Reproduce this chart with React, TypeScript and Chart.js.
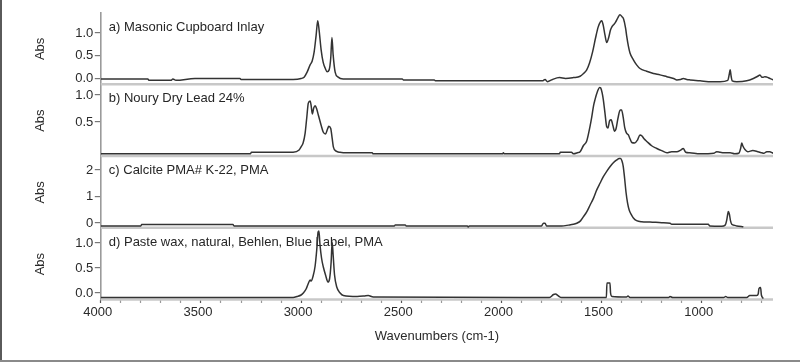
import React, { useEffect, useRef } from "react";
import { Chart, registerables } from "chart.js";

Chart.register(...registerables);

const FONT = '"Liberation Sans", Arial, Helvetica, sans-serif';

// ---- Panel titles ----
const panelLabels = [
  "a) Masonic Cupboard Inlay",
  "b) Noury Dry Lead 24%",
  "c) Calcite PMA# K-22, PMA",
  "d) Paste wax, natural, Behlen, Blue Label, PMA",
];

// ---- x axis ----
const xMin = 644;
const xMax = 4000;
const xStep = 100;
const xLabelEvery = 500;
const xTitle = "Wavenumbers (cm-1)";
const yTitle = "Abs";

// ---- y tick labels per panel ----
const ticksA = [0, 0.5, 1.0];
const ticksB = [0.5, 1.0];
const ticksC = [0, 1, 2];
const ticksD = [0, 0.5, 1.0];

// ---- y ranges per panel ----
const rangeA = [-0.137, 1.44];
const rangeB = [-0.139, 1.19];
const rangeC = [-0.198, 2.51];
const rangeD = [-0.14, 1.295];

// ---- a) Masonic Cupboard Inlay ----
const wnA = [4000, 3765, 3760, 3650, 3640, 3625, 3530, 3305, 3300, 3040, 3000, 2985, 2970, 2955, 2945, 2935, 2925, 2917, 2910, 2900, 2890, 2880, 2870, 2860, 2852, 2846, 2840, 2830, 2815, 2790, 2495, 2490, 2335, 2330, 1795, 1782, 1770, 1745, 1710, 1680, 1640, 1607, 1590, 1574, 1560, 1545, 1530, 1517, 1505, 1499, 1492, 1483, 1474, 1465, 1455, 1449, 1440, 1430, 1418, 1408, 1398, 1390, 1380, 1374, 1366, 1358, 1341, 1325, 1308, 1275, 1241, 1208, 1174, 1140, 1124, 1105, 1092, 1075, 1058, 1008, 950, 908, 870, 862, 858, 853, 848, 825, 775, 742, 720, 709, 700, 692, 684, 675, 659, 648, 642];
const absA = [-0.01, -0.01, -0.04, -0.04, -0.01, -0.04, 0.0, 0.0, -0.02, -0.02, 0.0, 0.03, 0.14, 0.30, 0.38, 0.58, 0.95, 1.27, 1.06, 0.63, 0.36, 0.23, 0.15, 0.19, 0.45, 0.90, 0.52, 0.14, 0.03, -0.01, -0.01, -0.03, -0.03, -0.05, -0.05, -0.02, -0.07, -0.02, 0.02, 0.0, 0.02, 0.05, 0.11, 0.19, 0.34, 0.58, 0.89, 1.13, 1.25, 1.27, 1.18, 0.96, 0.79, 0.89, 1.07, 1.13, 1.18, 1.24, 1.34, 1.40, 1.36, 1.31, 1.11, 0.92, 0.71, 0.56, 0.41, 0.30, 0.22, 0.16, 0.11, 0.08, 0.04, 0.0, -0.03, -0.02, 0.0, -0.02, -0.03, -0.05, -0.07, -0.07, -0.04, 0.10, 0.19, 0.05, -0.05, -0.07, -0.05, 0.0, 0.05, 0.08, 0.03, 0.03, 0.04, 0.03, 0.0, -0.02, -0.03];

// ---- b) Noury Dry Lead 24% ----
const wnB = [4000, 3253, 3248, 3040, 3010, 3000, 2990, 2980, 2972, 2964, 2955, 2950, 2944, 2937, 2930, 2922, 2914, 2900, 2889, 2878, 2868, 2862, 2852, 2845, 2839, 2825, 2806, 2772, 2645, 2640, 1995, 1990, 1985, 1710, 1706, 1650, 1641, 1620, 1607, 1591, 1574, 1557, 1549, 1540, 1533, 1520, 1510, 1504, 1497, 1491, 1483, 1474, 1468, 1460, 1452, 1443, 1435, 1428, 1418, 1407, 1400, 1392, 1384, 1376, 1366, 1358, 1349, 1335, 1320, 1308, 1298, 1288, 1274, 1250, 1224, 1200, 1174, 1150, 1124, 1105, 1092, 1080, 1060, 1008, 940, 925, 908, 890, 858, 835, 815, 805, 800, 795, 784, 770, 745, 720, 700, 690, 675, 660, 648, 642];
const absB = [-0.09, -0.09, -0.06, -0.06, -0.02, 0.04, 0.11, 0.29, 0.57, 0.85, 0.89, 0.81, 0.65, 0.76, 0.80, 0.74, 0.63, 0.44, 0.31, 0.28, 0.37, 0.42, 0.38, 0.20, 0.04, -0.04, -0.06, -0.07, -0.07, -0.09, -0.09, -0.07, -0.09, -0.09, -0.06, -0.06, -0.09, -0.07, -0.05, 0.06, 0.15, 0.43, 0.59, 0.80, 0.91, 1.07, 1.14, 1.13, 1.04, 0.91, 0.67, 0.41, 0.39, 0.52, 0.54, 0.43, 0.33, 0.37, 0.57, 0.72, 0.72, 0.59, 0.39, 0.30, 0.26, 0.19, 0.12, 0.11, 0.17, 0.26, 0.24, 0.19, 0.14, 0.06, 0.01, -0.03, -0.07, -0.05, -0.05, -0.02, 0.01, -0.06, -0.07, -0.09, -0.08, -0.05, -0.06, -0.07, -0.07, -0.09, -0.08, 0.02, 0.11, 0.06, -0.01, -0.05, -0.03, -0.05, -0.07, -0.08, -0.05, -0.05, -0.07, -0.08];

// ---- c) Calcite PMA# K-22, PMA ----
const wnC = [4000, 3800, 3796, 3340, 3335, 2535, 2530, 2480, 2475, 2170, 2166, 2160, 1800, 1790, 1782, 1775, 1700, 1665, 1640, 1624, 1605, 1591, 1574, 1557, 1540, 1524, 1507, 1491, 1475, 1458, 1440, 1424, 1412, 1405, 1398, 1392, 1385, 1378, 1370, 1362, 1350, 1341, 1325, 1300, 1258, 1200, 1158, 1150, 967, 960, 900, 883, 875, 870, 867, 862, 856, 850, 835, 825, 792];
const absC = [-0.11, -0.11, -0.06, -0.06, -0.11, -0.11, -0.08, -0.08, -0.11, -0.11, -0.15, -0.11, -0.11, -0.01, -0.01, -0.11, -0.11, -0.08, -0.05, -0.01, 0.08, 0.23, 0.42, 0.68, 0.94, 1.25, 1.51, 1.75, 1.94, 2.12, 2.28, 2.38, 2.43, 2.43, 2.34, 2.15, 1.70, 1.17, 0.75, 0.49, 0.30, 0.19, 0.09, 0.05, 0.04, 0.01, -0.01, -0.05, -0.05, -0.11, -0.12, -0.08, 0.11, 0.34, 0.43, 0.34, 0.08, -0.05, -0.09, -0.11, -0.14];

// ---- d) Paste wax, natural, Behlen, Blue Label, PMA ----
const wnD = [4000, 3040, 3020, 3000, 2989, 2975, 2964, 2955, 2950, 2940, 2930, 2922, 2915, 2911, 2906, 2898, 2889, 2878, 2866, 2858, 2850, 2845, 2840, 2833, 2822, 2805, 2789, 2720, 2685, 2665, 2640, 1760, 1740, 1730, 1715, 1700, 1476, 1473, 1458, 1455, 1448, 1375, 1368, 1358, 1165, 1158, 1145, 890, 880, 870, 775, 760, 725, 718, 714, 706, 702, 692];
const absD = [-0.09, -0.09, -0.07, -0.04, 0.0, 0.08, 0.19, 0.26, 0.24, 0.34, 0.54, 0.86, 1.22, 1.24, 0.98, 0.70, 0.52, 0.36, 0.22, 0.28, 0.62, 1.02, 0.76, 0.36, 0.12, 0.0, -0.05, -0.07, -0.06, -0.05, -0.08, -0.09, -0.03, -0.02, -0.06, -0.09, -0.09, 0.20, 0.20, 0.0, -0.07, -0.08, -0.06, -0.09, -0.09, -0.07, -0.09, -0.09, -0.07, -0.09, -0.09, -0.05, -0.05, -0.02, 0.09, 0.11, -0.04, -0.11];

const panelIds = ["yA", "yB", "yC", "yD"];

function toPoints(xs: number[], ys: number[]) {
  return xs.map((x, i) => ({ x, y: ys[i] }));
}

const decorPlugin = {
  id: "decor",
  beforeDatasetsDraw(chart: any) {
    const { ctx, chartArea } = chart;
    ctx.save();
    ctx.strokeStyle = "#c8c8c8";
    ctx.lineWidth = 2.5;
    panelIds.forEach((id) => {
      const s = chart.scales[id];
      ctx.beginPath();
      ctx.moveTo(chartArea.left, s.bottom - 0.5);
      ctx.lineTo(chartArea.right, s.bottom - 0.5);
      ctx.stroke();
    });
    ctx.fillStyle = "#262626";
    ctx.font = `13px ${FONT}`;
    ctx.textBaseline = "middle";
    ctx.textAlign = "left";
    panelIds.forEach((id, i) => {
      const s = chart.scales[id];
      ctx.fillText(panelLabels[i], chartArea.left + 8, s.top + 14);
    });
    ctx.restore();
  },
  afterDraw(chart: any) {
    const { ctx } = chart;
    ctx.save();
    ctx.fillStyle = "#5a5a5a";
    ctx.fillRect(0, 0, 2, chart.height);
    ctx.fillStyle = "#8a8a8a";
    ctx.fillRect(0, chart.height - 2, chart.width, 2);
    ctx.restore();
  },
};

function yAxis(range: number[], ticks: number[], weight: number, decimals: number) {
  return {
    type: "linear",
    position: "left",
    stack: "panels",
    stackWeight: 1,
    weight,
    min: range[0],
    max: range[1],
    afterBuildTicks: (scale: any) => {
      scale.ticks = ticks.map((v) => ({ value: v }));
    },
    afterFit: (scale: any) => {
      scale.width = 100.8;
    },
    ticks: {
      color: "#2a2a2a",
      font: { family: FONT, size: 13 },
      padding: 1.5,
      callback: (v: any) => Number(v).toFixed(decimals),
    },
    grid: {
      drawOnChartArea: false,
      drawTicks: true,
      tickLength: 6,
      color: "#777",
      lineWidth: 1.2,
    },
    border: { display: true, color: "#9a9a9a", width: 1.6, dash: [1.2, 2.2] },
    title: {
      display: true,
      text: yTitle,
      color: "#2a2a2a",
      font: { family: FONT, size: 13 },
      padding: { top: 32.2, bottom: 0 },
    },
  };
}

export default function App() {
  const canvasRef = useRef<HTMLCanvasElement | null>(null);

  useEffect(() => {
    if (!canvasRef.current) return;
    const lineStyle = {
      borderColor: "#333333",
      borderWidth: 1.5,
      pointRadius: 0,
      fill: false,
      cubicInterpolationMode: "monotone",
    };
    const chart = new Chart(canvasRef.current, {
      type: "line",
      data: {
        datasets: [
          { ...lineStyle, label: panelLabels[0], data: toPoints(wnA, absA), yAxisID: "yA" },
          { ...lineStyle, label: panelLabels[1], data: toPoints(wnB, absB), yAxisID: "yB" },
          { ...lineStyle, label: panelLabels[2], data: toPoints(wnC, absC), yAxisID: "yC" },
          { ...lineStyle, label: panelLabels[3], data: toPoints(wnD, absD), yAxisID: "yD" },
        ],
      } as any,
      options: {
        responsive: false,
        animation: false,
        devicePixelRatio: 1,
        layout: { padding: { top: 13, right: 27, left: 0, bottom: 0 } },
        plugins: { legend: { display: false }, tooltip: { enabled: false } },
        scales: {
          x: {
            type: "linear",
            reverse: true,
            min: xMin,
            max: xMax,
            afterFit: (scale: any) => {
              scale.height = 62;
            },
            ticks: {
              stepSize: xStep,
              includeBounds: false,
              autoSkip: false,
              maxRotation: 0,
              padding: 2,
              labelOffset: -3,
              color: "#2a2a2a",
              font: { family: FONT, size: 13 },
              callback: (v: any) => (Number(v) % xLabelEvery === 0 ? String(v) : ""),
            },
            grid: {
              drawOnChartArea: false,
              tickLength: 3,
              tickWidth: 1.2,
              tickColor: (c: any) =>
                c.tick && c.tick.value % xLabelEvery === 0 ? "#555" : "#999",
            },
            border: { display: false },
            title: {
              display: true,
              text: xTitle,
              color: "#2a2a2a",
              font: { family: FONT, size: 13 },
              padding: { top: 0, bottom: 17.5 },
            },
          },
          yA: yAxis(rangeA, ticksA, 4, 1),
          yB: yAxis(rangeB, ticksB, 3, 1),
          yC: yAxis(rangeC, ticksC, 2, 0),
          yD: yAxis(rangeD, ticksD, 1, 1),
        } as any,
      },
      plugins: [decorPlugin],
    });
    return () => chart.destroy();
  }, []);

  return (
    <div style={{ position: "fixed", left: 0, top: 0, width: 800, height: 362, background: "#fff" }}>
      <canvas ref={canvasRef} width={800} height={362} style={{ display: "block" }} />
    </div>
  );
}
